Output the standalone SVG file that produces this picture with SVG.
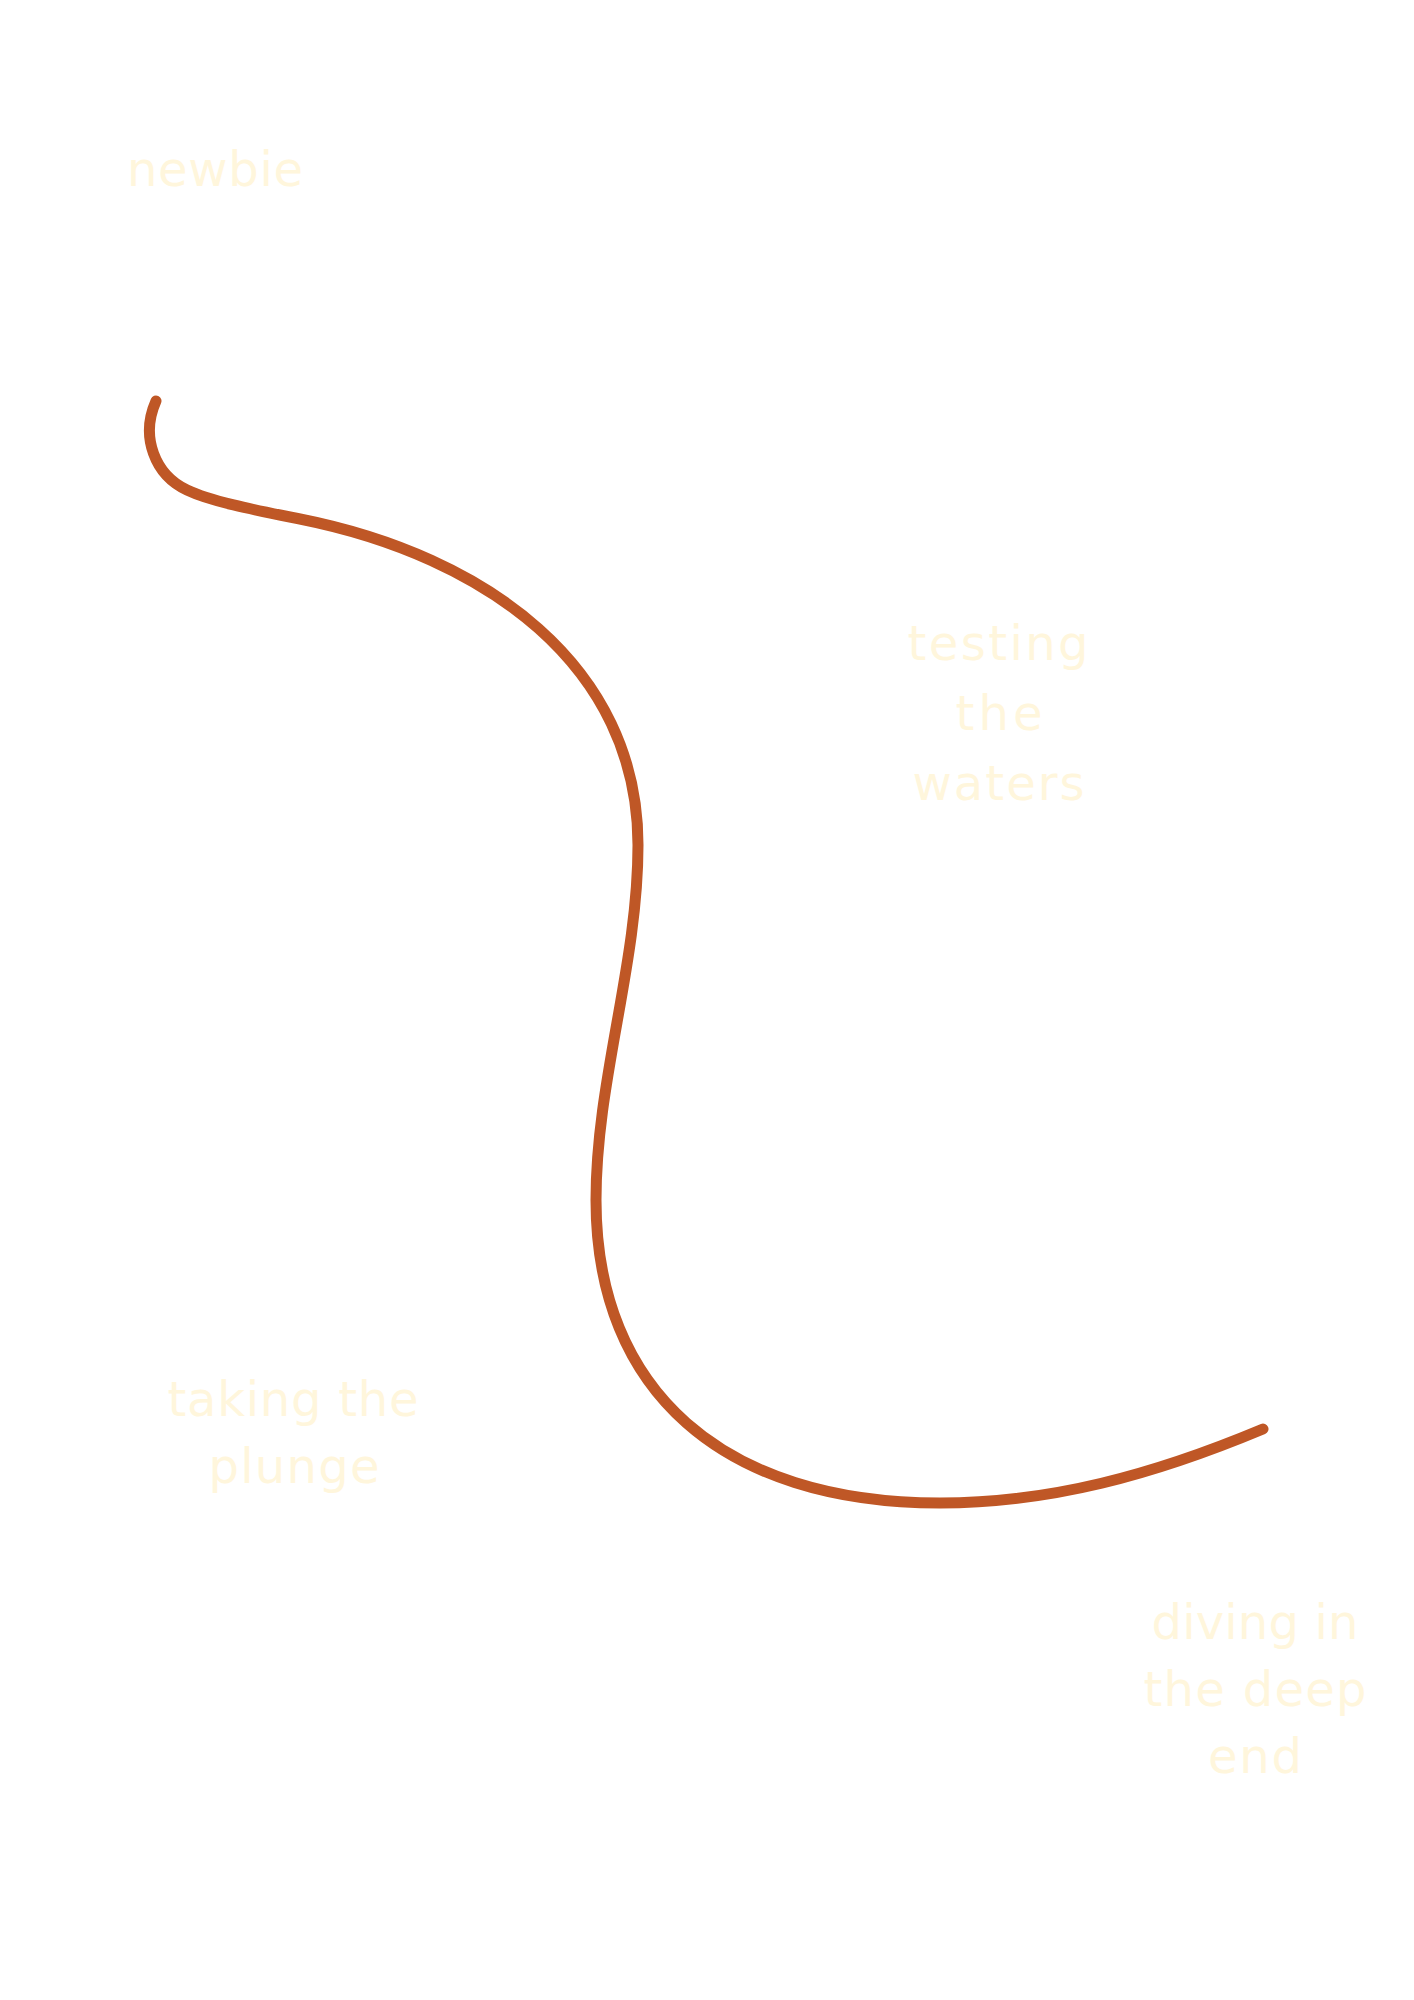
<svg xmlns="http://www.w3.org/2000/svg" width="1414" height="2000" viewBox="0 0 1414 2000">
<style>
.lbl{font-family:"DejaVu Sans","Noto Sans","Liberation Sans",sans-serif;font-size:48px;font-weight:400;fill:#FFF6DC;text-anchor:middle;font-variant-ligatures:none}
.path{fill:none;stroke:#BF5726;stroke-width:11;stroke-linecap:round;stroke-linejoin:round}
</style>
<rect width="1414" height="2000" fill="#FFFFFF"/>
<g id="connectors">
<path class="path" d="M156,401 C140,437 155,475 187,490 C212,502 260,511 300,519 C486,556 638,666 638,845 C638,965 596,1080 596,1200 C596,1391 723,1503 940,1503 C1050,1503 1153,1475 1263,1429"/>
</g>
<g id="newbie"><text class="lbl" x="215" y="186" textLength="176" lengthAdjust="spacing">newbie</text></g>
<g id="testing-the-waters">
<text class="lbl" x="998" y="660" textLength="181" lengthAdjust="spacing">testing</text>
<text class="lbl" x="999" y="730" textLength="87" lengthAdjust="spacing">the</text>
<text class="lbl" x="998.5" y="800" textLength="172" lengthAdjust="spacing">waters</text>
</g>
<g id="taking-the-plunge">
<text class="lbl" x="293" y="1416" textLength="251" lengthAdjust="spacing">taking the</text>
<text class="lbl" x="294" y="1483" textLength="171" lengthAdjust="spacing">plunge</text>
</g>
<g id="diving-in-the-deep-end">
<text class="lbl" x="1255" y="1639" textLength="207" lengthAdjust="spacing">diving in</text>
<text class="lbl" x="1255" y="1706" textLength="223" lengthAdjust="spacing">the deep</text>
<text class="lbl" x="1255" y="1773" textLength="94" lengthAdjust="spacing">end</text>
</g>
</svg>
